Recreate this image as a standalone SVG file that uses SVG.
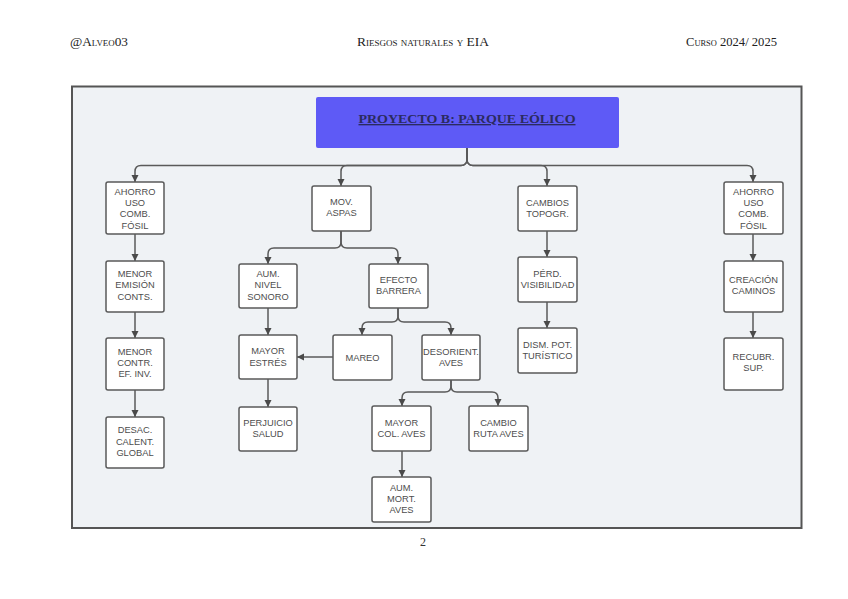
<svg xmlns="http://www.w3.org/2000/svg" width="848" height="599" viewBox="0 0 848 599">
<style>
.hdr{font-family:"Liberation Serif","Times New Roman",serif;font-size:12px;font-variant:small-caps;fill:#222}
.box{fill:#ffffff;stroke:#5a5a5a;stroke-width:1.5}
.lbl{font-family:"Liberation Sans",Arial,sans-serif;font-size:9.3px;fill:#4d4d4d;text-anchor:middle}
.con{fill:none;stroke:#5a5a5a;stroke-width:1.5}
</style>
<defs>
<marker id="arr" markerUnits="userSpaceOnUse" markerWidth="8" markerHeight="8" refX="7" refY="3.5" orient="auto">
<path d="M0,0 L7,3.5 L0,7 z" fill="#4a4a4a"/>
</marker>
</defs>
<rect x="0" y="0" width="848" height="599" fill="#ffffff"/>
<text class="hdr" x="70" y="46" textLength="58" lengthAdjust="spacingAndGlyphs">@Alveo03</text>
<text class="hdr" x="357" y="46" textLength="132" lengthAdjust="spacingAndGlyphs">Riesgos naturales y EIA</text>
<text class="hdr" x="686" y="46" textLength="91" lengthAdjust="spacingAndGlyphs">Curso 2024/ 2025</text>
<rect x="72" y="86.5" width="729.5" height="441.5" fill="#eff2f5" stroke="#555" stroke-width="2"/>
<g id="title">
<rect x="316" y="97" width="303" height="51" rx="2" fill="#5e5af6"/>
<text x="467" y="123" font-family="'Liberation Serif','Times New Roman',serif" font-size="13.5" font-weight="bold" fill="#2b2b60" text-anchor="middle" text-decoration="underline" textLength="217" lengthAdjust="spacingAndGlyphs">PROYECTO B: PARQUE EÓLICO</text>
</g>
<g id="connectors">
<path class="con" d="M467,148 V159 Q467,165.5 461,165.5 H141 Q135,165.5 135,171.5 V182" marker-end="url(#arr)"/>
<path class="con" d="M467,148 V159 Q467,165.5 461,165.5 H347 Q341,165.5 341,171.5 V186" marker-end="url(#arr)"/>
<path class="con" d="M467,148 V159 Q467,165.5 473,165.5 H541 Q547,165.5 547,171.5 V186" marker-end="url(#arr)"/>
<path class="con" d="M467,148 V159 Q467,165.5 473,165.5 H747 Q753,165.5 753,171.5 V182" marker-end="url(#arr)"/>
<path class="con" d="M135,234 V261" marker-end="url(#arr)"/>
<path class="con" d="M135,312 V338" marker-end="url(#arr)"/>
<path class="con" d="M135,390 V417" marker-end="url(#arr)"/>
<path class="con" d="M341,231 V242 Q341,248 335,248 H274 Q268,248 268,254 V264" marker-end="url(#arr)"/>
<path class="con" d="M341,231 V242 Q341,248 347,248 H392 Q398,248 398,254 V264" marker-end="url(#arr)"/>
<path class="con" d="M268,308 V335" marker-end="url(#arr)"/>
<path class="con" d="M268,379 V407" marker-end="url(#arr)"/>
<path class="con" d="M398,308 V316 Q398,322 392,322 H368 Q362,322 362,328 V335" marker-end="url(#arr)"/>
<path class="con" d="M398,308 V316 Q398,322 404,322 H445 Q451,322 451,328 V335" marker-end="url(#arr)"/>
<path class="con" d="M333,357 H297" marker-end="url(#arr)"/>
<path class="con" d="M451,380 V386 Q451,392 445,392 H408 Q402,392 402,398 V406" marker-end="url(#arr)"/>
<path class="con" d="M451,380 V386 Q451,392 457,392 H492 Q498,392 498,398 V406" marker-end="url(#arr)"/>
<path class="con" d="M402,451 V477" marker-end="url(#arr)"/>
<path class="con" d="M547,231 V257" marker-end="url(#arr)"/>
<path class="con" d="M547,302 V328" marker-end="url(#arr)"/>
<path class="con" d="M753,234 V261" marker-end="url(#arr)"/>
<path class="con" d="M753,312 V338" marker-end="url(#arr)"/>
</g>
<g id="n-ahorro1">
<rect class="box" x="106" y="182" width="58" height="52" rx="2"/>
<text class="lbl" x="135" y="194.6">AHORRO</text>
<text class="lbl" x="135" y="205.9">USO</text>
<text class="lbl" x="135" y="217.2">COMB.</text>
<text class="lbl" x="135" y="228.5">FÓSIL</text>
</g>
<g id="n-menor-emision">
<rect class="box" x="106" y="261" width="58" height="51" rx="2"/>
<text class="lbl" x="135" y="277">MENOR</text>
<text class="lbl" x="135" y="288.3">EMISIÓN</text>
<text class="lbl" x="135" y="299.6">CONTS.</text>
</g>
<g id="n-menor-contr">
<rect class="box" x="106" y="338" width="58" height="52" rx="2"/>
<text class="lbl" x="135" y="354.5">MENOR</text>
<text class="lbl" x="135" y="365.8">CONTR.</text>
<text class="lbl" x="135" y="377.1">EF. INV.</text>
</g>
<g id="n-desac">
<rect class="box" x="106" y="417" width="58" height="51" rx="2"/>
<text class="lbl" x="135" y="433.4">DESAC.</text>
<text class="lbl" x="135" y="444.7">CALENT.</text>
<text class="lbl" x="135" y="456">GLOBAL</text>
</g>
<g id="n-mov">
<rect class="box" x="312" y="186" width="59" height="45" rx="2"/>
<text class="lbl" x="341.5" y="205">MOV.</text>
<text class="lbl" x="341.5" y="216.3">ASPAS</text>
</g>
<g id="n-aum-nivel">
<rect class="box" x="239" y="264" width="58" height="44" rx="2"/>
<text class="lbl" x="268" y="277">AUM.</text>
<text class="lbl" x="268" y="288.3">NIVEL</text>
<text class="lbl" x="268" y="299.6">SONORO</text>
</g>
<g id="n-mayor-estres">
<rect class="box" x="239" y="335" width="58" height="44" rx="2"/>
<text class="lbl" x="268" y="354.2">MAYOR</text>
<text class="lbl" x="268" y="365.5">ESTRÉS</text>
</g>
<g id="n-perjuicio">
<rect class="box" x="239" y="407" width="58" height="44" rx="2"/>
<text class="lbl" x="268" y="425.6">PERJUICIO</text>
<text class="lbl" x="268" y="436.9">SALUD</text>
</g>
<g id="n-efecto">
<rect class="box" x="369" y="264" width="59" height="44" rx="2"/>
<text class="lbl" x="398.5" y="282.8">EFECTO</text>
<text class="lbl" x="398.5" y="294.1">BARRERA</text>
</g>
<g id="n-mareo">
<rect class="box" x="333" y="335" width="59" height="45" rx="2"/>
<text class="lbl" x="362.5" y="360.5">MAREO</text>
</g>
<g id="n-desorient">
<rect class="box" x="422" y="335" width="58" height="45" rx="2"/>
<text class="lbl" x="451" y="354.5">DESORIENT.</text>
<text class="lbl" x="451" y="365.8">AVES</text>
</g>
<g id="n-mayor-col">
<rect class="box" x="372" y="406" width="59" height="45" rx="2"/>
<text class="lbl" x="401.5" y="425.5">MAYOR</text>
<text class="lbl" x="401.5" y="436.8">COL. AVES</text>
</g>
<g id="n-cambio-ruta">
<rect class="box" x="469" y="406" width="59" height="45" rx="2"/>
<text class="lbl" x="498.5" y="425.5">CAMBIO</text>
<text class="lbl" x="498.5" y="436.8">RUTA AVES</text>
</g>
<g id="n-aum-mort">
<rect class="box" x="372" y="477" width="59" height="45" rx="2"/>
<text class="lbl" x="401.5" y="490.7">AUM.</text>
<text class="lbl" x="401.5" y="502">MORT.</text>
<text class="lbl" x="401.5" y="513.3">AVES</text>
</g>
<g id="n-cambios-topogr">
<rect class="box" x="518" y="186" width="59" height="45" rx="2"/>
<text class="lbl" x="547.5" y="205.5">CAMBIOS</text>
<text class="lbl" x="547.5" y="216.8">TOPOGR.</text>
</g>
<g id="n-perd-visib">
<rect class="box" x="518" y="257" width="59" height="45" rx="2"/>
<text class="lbl" x="547.5" y="276.5">PÉRD.</text>
<text class="lbl" x="547.5" y="287.8">VISIBILIDAD</text>
</g>
<g id="n-dism-pot">
<rect class="box" x="518" y="328" width="59" height="45" rx="2"/>
<text class="lbl" x="547.5" y="347.5">DISM. POT.</text>
<text class="lbl" x="547.5" y="358.8">TURÍSTICO</text>
</g>
<g id="n-ahorro2">
<rect class="box" x="724" y="182" width="59" height="52" rx="2"/>
<text class="lbl" x="753.5" y="194.6">AHORRO</text>
<text class="lbl" x="753.5" y="205.9">USO</text>
<text class="lbl" x="753.5" y="217.2">COMB.</text>
<text class="lbl" x="753.5" y="228.5">FÓSIL</text>
</g>
<g id="n-creacion">
<rect class="box" x="724" y="261" width="59" height="51" rx="2"/>
<text class="lbl" x="753.5" y="282.5">CREACIÓN</text>
<text class="lbl" x="753.5" y="293.8">CAMINOS</text>
</g>
<g id="n-recubr">
<rect class="box" x="724" y="338" width="59" height="52" rx="2"/>
<text class="lbl" x="753.5" y="360">RECUBR.</text>
<text class="lbl" x="753.5" y="371.3">SUP.</text>
</g>
<text x="423" y="546" font-family="'Liberation Serif','Times New Roman',serif" font-size="12" fill="#333" text-anchor="middle">2</text>
</svg>
